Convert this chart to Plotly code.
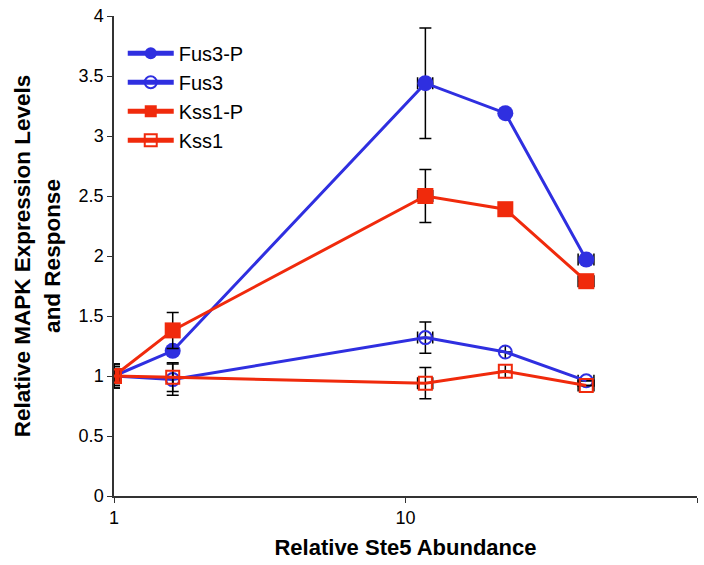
import plotly.graph_objects as go

# Data
ste5 = [1.0, 1.59, 11.7, 22.0, 41.7]
ste5_err = [0.05, 0.0, 0.7, 0.0, 2.6]

fus3p = [1.0, 1.21, 3.44, 3.19, 1.97]
fus3p_err = [0.1, 0.0, 0.46, 0.0, 0.0]

fus3 = [1.0, 0.97, 1.32, 1.20, 0.96]
fus3_err = [0.1, 0.13, 0.13, 0.0, 0.0]

kss1p = [1.0, 1.38, 2.50, 2.39, 1.79]
kss1p_err = [0.08, 0.15, 0.22, 0.0, 0.0]

kss1 = [1.0, 0.99, 0.94, 1.04, 0.92]
kss1_err = [0.08, 0.12, 0.13, 0.0, 0.0]

series_names = ["Fus3-P", "Fus3", "Kss1-P", "Kss1"]

BLUE = "#2f2fe0"
RED = "#f02a0c"

fig = go.Figure()

def add(name, y, yerr, color, symbol, size, fill):
    fig.add_trace(go.Scatter(
        x=ste5, y=y, name=name, mode="lines+markers",
        line=dict(color=color, width=3),
        marker=dict(symbol=symbol, size=size,
                    color=color if fill else "rgba(255,255,255,0)",
                    line=dict(color=color, width=0 if fill else 2)),
        error_y=dict(type="data", array=yerr, visible=True, color="black",
                     thickness=1.5, width=6),
        error_x=dict(type="data", array=ste5_err, visible=True, color="black",
                     thickness=1.5, width=6),
    ))

add(series_names[0], fus3p, fus3p_err, BLUE, "circle", 16, True)
add(series_names[1], fus3, fus3_err, BLUE, "circle", 13, False)
add(series_names[2], kss1p, kss1p_err, RED, "square", 16, True)
add(series_names[3], kss1, kss1_err, RED, "square", 13, False)

fig.update_layout(
    width=704, height=565,
    margin=dict(l=114, r=7, t=16, b=69),
    paper_bgcolor="white", plot_bgcolor="white",
    font=dict(family="Liberation Sans, Arial, sans-serif", size=18, color="black"),
    showlegend=True,
    legend=dict(x=0.015, y=0.963, xanchor="left", yanchor="top",
                font=dict(size=20), bgcolor="rgba(0,0,0,0)", tracegroupgap=0,
                itemsizing="constant", itemwidth=46),
)
fig.update_xaxes(
    type="log", range=[0, 2], dtick=1,
    showline=True, linecolor="#333", linewidth=1.5,
    ticks="outside", ticklen=5, tickcolor="#333",
    showgrid=False, zeroline=False,
    tickfont=dict(size=18),
    title=dict(text="<b>Relative Ste5 Abundance</b>", font=dict(size=22), standoff=12),
)
fig.update_yaxes(
    range=[0, 4], dtick=0.5,
    showline=True, linecolor="#333", linewidth=1.5,
    ticks="outside", ticklen=5, tickcolor="#333",
    showgrid=False, zeroline=False,
    tickfont=dict(size=18),
    title=dict(text="<b>Relative MAPK Expression Levels<br>and Response</b>",
               font=dict(size=22.5), standoff=12),
)

fig.write_html("out.html")
